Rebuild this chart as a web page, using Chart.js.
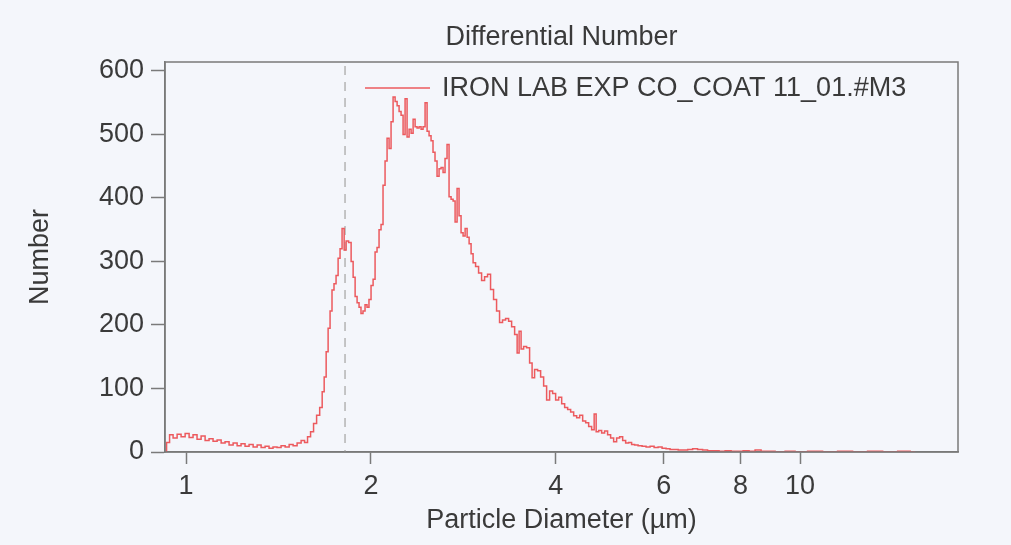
<!DOCTYPE html>
<html>
<head>
<meta charset="utf-8">
<script src="https://cdn.jsdelivr.net/npm/chart.js@4"></script>
<style>
  html, body { margin: 0; padding: 0; background: #f4f6fb; }
  #wrap { width: 1011px; height: 545px; }
</style>
</head>
<body>
<div id="wrap"><canvas id="psdChart" width="1011" height="545"></canvas></div>
<script>
// particle diameter (um)
const diameters = [
  0.924, 0.935, 0.945, 0.960, 0.974, 0.989, 1.004, 1.019, 1.034, 1.050,
  1.066, 1.082, 1.098, 1.115, 1.132, 1.149, 1.166, 1.184, 1.202, 1.220,
  1.238, 1.257, 1.276, 1.296, 1.315, 1.335, 1.355, 1.375, 1.396, 1.417,
  1.439, 1.461, 1.483, 1.505, 1.528, 1.551, 1.568, 1.586, 1.604, 1.622,
  1.641, 1.660, 1.672, 1.685, 1.697, 1.710, 1.722, 1.735, 1.748, 1.762,
  1.775, 1.788, 1.802, 1.816, 1.829, 1.850, 1.864, 1.878, 1.892, 1.906,
  1.920, 1.934, 1.949, 1.964, 1.978, 1.993, 2.009, 2.024, 2.039, 2.054,
  2.070, 2.085, 2.101, 2.117, 2.133, 2.149, 2.165, 2.182, 2.198, 2.215,
  2.231, 2.248, 2.265, 2.282, 2.299, 2.317, 2.334, 2.352, 2.369, 2.387,
  2.405, 2.423, 2.441, 2.460, 2.478, 2.497, 2.515, 2.534, 2.553, 2.573,
  2.592, 2.612, 2.631, 2.651, 2.671, 2.691, 2.712, 2.732, 2.753, 2.773,
  2.794, 2.815, 2.837, 2.858, 2.880, 2.901, 2.923, 2.945, 2.978, 3.012,
  3.046, 3.080, 3.115, 3.150, 3.186, 3.222, 3.258, 3.295, 3.333, 3.371,
  3.409, 3.448, 3.474, 3.499, 3.526, 3.566, 3.606, 3.647, 3.674, 3.716,
  3.758, 3.801, 3.844, 3.887, 3.931, 3.976, 4.021, 4.067, 4.113, 4.159,
  4.206, 4.254, 4.302, 4.351, 4.400, 4.450, 4.501, 4.550, 4.603, 4.637,
  4.672, 4.725, 4.778, 4.831, 4.886, 4.942, 4.998, 5.054, 5.112, 5.170,
  5.228, 5.287, 5.346, 5.407, 5.488, 5.571, 5.655, 5.741, 5.828, 5.916,
  6.005, 6.095, 6.186, 6.284, 6.378, 6.499, 6.622, 6.745, 6.873, 7.003,
  7.135, 7.298, 7.464, 7.635, 7.808, 7.986, 8.168, 8.352, 8.543, 8.737,
  8.937, 9.279, 9.632, 10.00, 10.58, 11.19, 11.84, 12.52, 13.25, 14.02,
  14.83, 15.40
];

// differential number per bin
const counts = [
  0, 15, 27, 22, 28, 24, 29, 23, 27, 20,
  25, 18, 21, 17, 19, 14, 16, 11, 14, 10,
  13, 9, 12, 8, 11, 7, 9, 6, 8, 7,
  10, 8, 12, 10, 14, 18, 15, 24, 32, 45,
  58, 70, 95, 118, 158, 195, 222, 255, 265, 278,
  305, 320, 352, 318, 332, 330, 300, 275, 245, 235,
  228, 218, 222, 232, 228, 240, 262, 272, 315, 322,
  350, 358, 420, 458, 494, 478, 520, 559, 552, 545,
  536, 530, 500, 556, 496, 508, 502, 524, 512, 510,
  512, 508, 512, 550, 505, 498, 490, 472, 458, 434,
  446, 448, 440, 462, 484, 402, 398, 395, 362, 415,
  372, 345, 340, 352, 338, 328, 312, 298, 292, 282,
  270, 276, 280, 256, 240, 222, 204, 208, 210, 206,
  197, 185, 156, 190, 162, 166, 164, 140, 117, 130,
  128, 118, 104, 82, 96, 92, 82, 86, 76, 70,
  67, 63, 57, 54, 58, 49, 46, 40, 35, 60,
  32, 34, 30, 33, 27, 22, 16, 22, 24, 18,
  14, 15, 12, 11, 10, 9, 8, 9, 7, 8,
  6, 5, 4, 4, 3, 3, 4, 5, 4, 3,
  2, 2, 1, 2, 1, 1, 2, 1, 3, 1,
  1, 0, 1, 0, 1, 0, 1, 0, 1, 0,
  1, 0
];

const xTickValues = [1, 2, 4, 6, 8, 10];
const yTickValues = [0, 100, 200, 300, 400, 500, 600];
const xMin = 0.924, xMax = 18.08;
const yMax = 614;
const markerDiameter = 1.815; // dashed reference line
const chartTitle = 'Differential Number';
const seriesLabel = 'IRON LAB EXP CO_COAT 11_01.#M3';

const textColor = '#3a3a3a';
const axisColor = '#7a7a7a';
const lineColor = '#ec5a5e';
const FONT = '"Liberation Sans", Arial, sans-serif';

const points = diameters.map((d, i) => ({ x: d, y: counts[i] }));

// frame, dashed line, title over the plot and the inside legend
const extras = {
  id: 'extras',
  beforeDatasetsDraw(chart) {
    const { ctx, chartArea: a, scales } = chart;
    const xp = scales.x.getPixelForValue(markerDiameter);
    ctx.save();
    ctx.strokeStyle = '#b4b4b4';
    ctx.lineWidth = 1.5;
    ctx.setLineDash([9, 7]);
    ctx.beginPath();
    ctx.moveTo(xp, a.top + 4);
    ctx.lineTo(xp, a.bottom);
    ctx.stroke();
    ctx.restore();
  },
  afterDatasetsDraw(chart) {
    const { ctx, chartArea: a } = chart;
    ctx.save();
    ctx.strokeStyle = axisColor;
    ctx.lineWidth = 1.5;
    ctx.strokeRect(a.left, a.top, a.right - a.left, a.bottom - a.top);

    ctx.fillStyle = textColor;
    ctx.font = '27px ' + FONT;
    ctx.textBaseline = 'middle';
    ctx.textAlign = 'center';
    ctx.fillText(chartTitle, (a.left + a.right) / 2, 38);

    // legend
    const ly = a.top + 26;
    const lx = a.left + 200;
    ctx.strokeStyle = lineColor;
    ctx.lineWidth = 1.5;
    ctx.beginPath();
    ctx.moveTo(lx, ly);
    ctx.lineTo(lx + 65, ly);
    ctx.stroke();
    ctx.textAlign = 'left';
    ctx.fillText(seriesLabel, lx + 77, ly + 1);
    ctx.restore();
  }
};

const bg = {
  id: 'bg',
  beforeDraw(chart) {
    const ctx = chart.ctx;
    ctx.save();
    ctx.fillStyle = '#f4f6fb';
    ctx.fillRect(0, 0, chart.width, chart.height);
    ctx.restore();
  }
};

const ctx = document.getElementById('psdChart').getContext('2d');
const psdChart = new Chart(ctx, {
  type: 'line',
  data: {
    datasets: [{
      label: seriesLabel,
      data: points,
      stepped: 'middle',
      borderColor: lineColor,
      borderWidth: 1.5,
      pointRadius: 0,
      fill: false
    }]
  },
  options: {
    responsive: false,
    animation: false,
    layout: { padding: { left: 0, right: 53, top: 62, bottom: 0 } },
    plugins: {
      legend: { display: false },
      tooltip: { enabled: false },
      title: { display: false }
    },
    scales: {
      x: {
        type: 'logarithmic',
        min: xMin,
        max: xMax,
        afterBuildTicks: s => { s.ticks = xTickValues.map(v => ({ value: v })); },
        afterFit: s => { s.height = 93; },
        ticks: {
          color: textColor,
          font: { family: FONT, size: 27 },
          padding: 6,
          autoSkip: false,
          maxRotation: 0,
          callback: v => String(v)
        },
        grid: {
          drawOnChartArea: false,
          drawTicks: true,
          tickLength: 12,
          tickColor: axisColor,
          tickWidth: 1.5
        },
        border: { color: axisColor, width: 1.5 },
        title: {
          display: true,
          text: 'Particle Diameter (µm)',
          color: textColor,
          font: { family: FONT, size: 27 },
          padding: { top: 2, bottom: 8 }
        }
      },
      y: {
        min: 0,
        max: yMax,
        afterBuildTicks: s => { s.ticks = yTickValues.map(v => ({ value: v })); },
        afterFit: s => { s.width = 165; },
        ticks: {
          color: textColor,
          font: { family: FONT, size: 27 },
          padding: 7
        },
        grid: {
          drawOnChartArea: false,
          drawTicks: true,
          tickLength: 14,
          tickColor: axisColor,
          tickWidth: 1.5
        },
        border: { color: axisColor, width: 1.5 },
        title: {
          display: true,
          text: 'Number',
          color: textColor,
          font: { family: FONT, size: 27 },
          padding: { top: 24, bottom: 0 }
        }
      }
    }
  },
  plugins: [bg, extras]
});
</script>
</body>
</html>
